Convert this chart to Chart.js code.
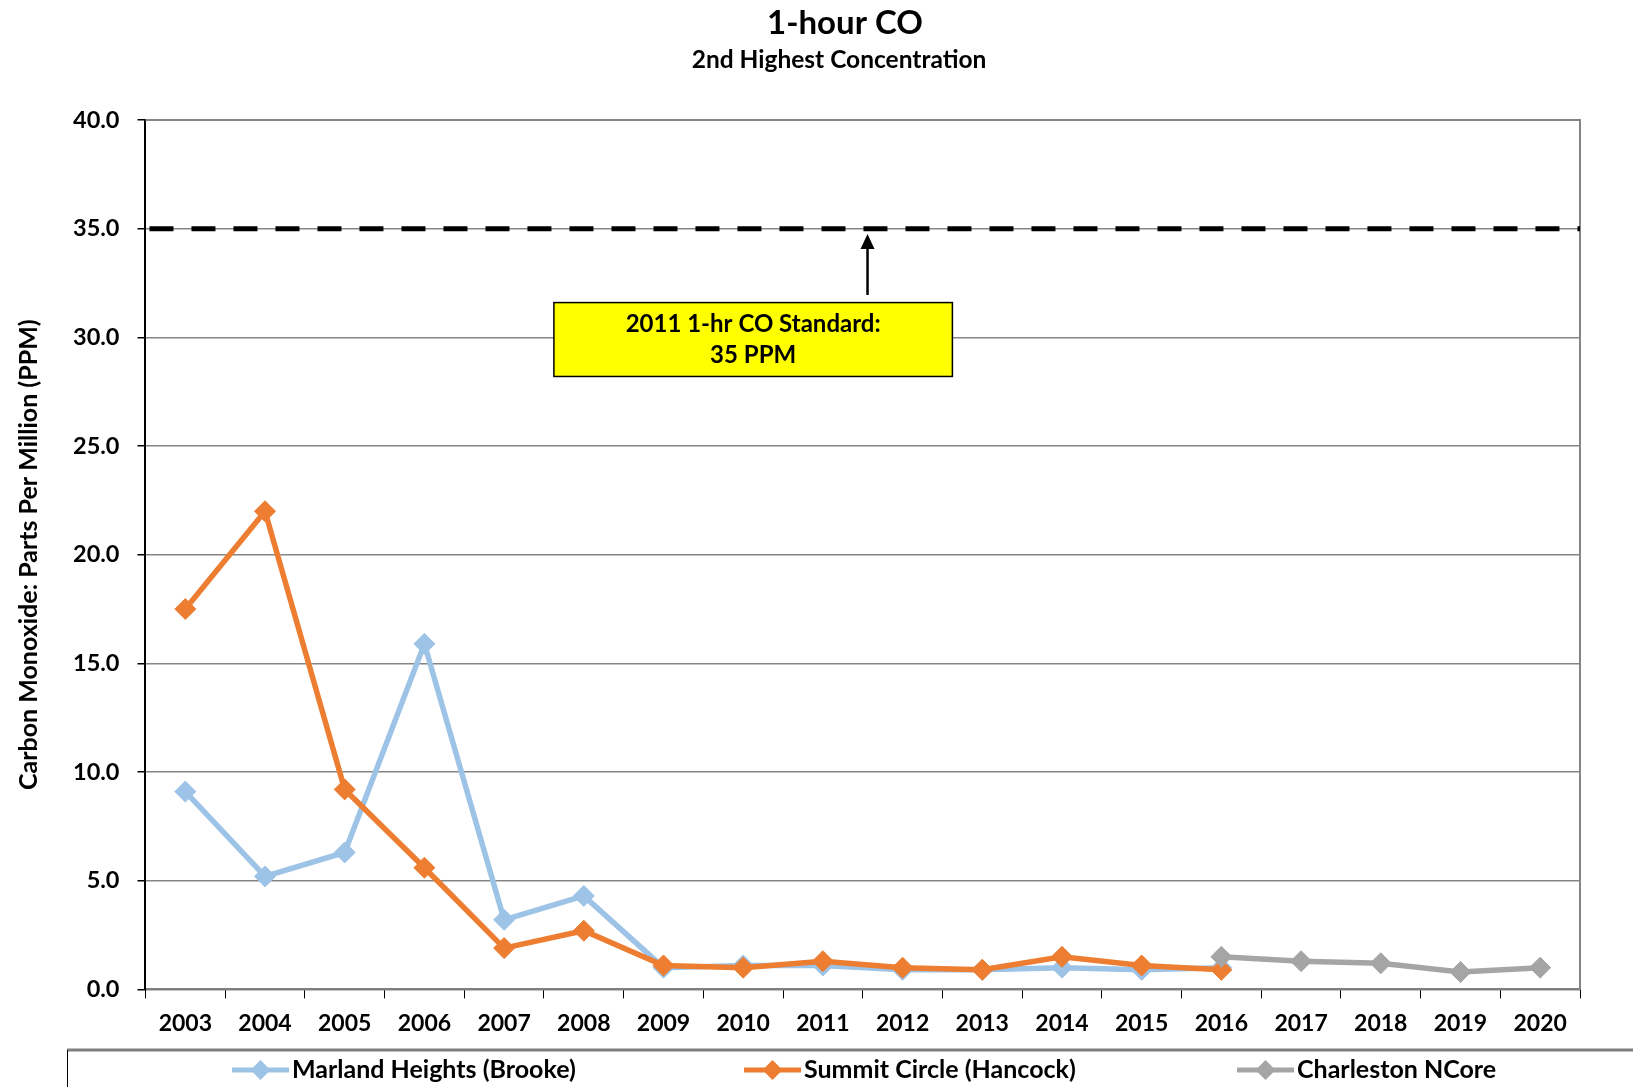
<!DOCTYPE html>
<html>
<head>
<meta charset="utf-8">
<script src="https://cdn.jsdelivr.net/npm/chart.js@4.4.1/dist/chart.umd.min.js"></script>
<style>
	html, body { margin: 0; padding: 0; background: #fff; }
	#wrap { width: 1633px; height: 1087px; }
</style>
</head>
<body>
<div id="wrap"><canvas id="chart"></canvas></div>
<script>
const years = ['2003', '2004', '2005', '2006', '2007', '2008', '2009', '2010', '2011', '2012', '2013', '2014', '2015', '2016', '2017', '2018', '2019', '2020'];
const marlandHeights = [9.1, 5.2, 6.3, 15.9, 3.2, 4.3, 1.0, 1.1, 1.1, 0.9, 0.9, 1.0, 0.9, 1.0, null, null, null, null];
const summitCircle = [17.5, 22.0, 9.2, 5.6, 1.9, 2.7, 1.1, 1.0, 1.3, 1.0, 0.9, 1.5, 1.1, 0.9, null, null, null, null];
const charlestonNCore = [null, null, null, null, null, null, null, null, null, null, null, null, null, 1.5, 1.3, 1.2, 0.8, 1.0];
const seriesNames = ['Marland Heights (Brooke)', 'Summit Circle (Hancock)', 'Charleston NCore'];
const seriesColors = ['#9DC3E6', '#ED7D31', '#A5A5A5'];
const yMin = 0, yMax = 40, yStep = 5;
const standardPPM = 35;
const standardLabel = ['2011 1-hr CO Standard:', '35 PPM'];
const titleText = '1-hour CO';
const subtitleText = '2nd Highest Concentration';

const FONT = 'Lato, "Open Sans", sans-serif';

function diamond(ctx, x, y, r, color) {
	ctx.beginPath();
	ctx.moveTo(x, y - r);
	ctx.lineTo(x + r, y);
	ctx.lineTo(x, y + r);
	ctx.lineTo(x - r, y);
	ctx.closePath();
	ctx.fillStyle = color;
	ctx.fill();
}

const extras = {
	id: 'extras',
	afterDatasetsDraw(chart) {
		const ctx = chart.ctx;
		const area = chart.chartArea;
		const x = chart.scales.x;
		const y = chart.scales.y;
		ctx.save();

		// titles
		ctx.fillStyle = '#000';
		ctx.textAlign = 'center';
		ctx.textBaseline = 'middle';
		ctx.font = 'bold 33px ' + FONT;
		ctx.fillText(titleText, 845, 23);
		ctx.font = 'bold 24.5px ' + FONT;
		ctx.fillText(subtitleText, 839, 60);

		// top and right frame
		ctx.strokeStyle = '#858585';
		ctx.lineWidth = 2;
		ctx.beginPath();
		ctx.moveTo(area.left, area.top);
		ctx.lineTo(area.right, area.top);
		ctx.lineTo(area.right, area.bottom);
		ctx.stroke();

		// standard line
		const ys = y.getPixelForValue(standardPPM);
		ctx.strokeStyle = '#000';
		ctx.lineWidth = 5;
		ctx.setLineDash([24, 18]);
		ctx.beginPath();
		ctx.moveTo(area.left + 4, ys);
		ctx.lineTo(area.right, ys);
		ctx.stroke();
		ctx.setLineDash([]);

		// arrow
		const ax = x.getPixelForValue(8.56);
		const aBottom = y.getPixelForValue(31.95);
		const aTip = y.getPixelForValue(34.75);
		ctx.lineWidth = 2.5;
		ctx.beginPath();
		ctx.moveTo(ax, aBottom);
		ctx.lineTo(ax, aTip + 12);
		ctx.stroke();
		ctx.beginPath();
		ctx.moveTo(ax, aTip);
		ctx.lineTo(ax - 7, aTip + 15);
		ctx.lineTo(ax + 7, aTip + 15);
		ctx.closePath();
		ctx.fillStyle = '#000';
		ctx.fill();

		// label box
		const bl = x.getPixelForValue(4.625);
		const br = x.getPixelForValue(9.625);
		const bt = y.getPixelForValue(31.6);
		const bb = y.getPixelForValue(28.2);
		ctx.fillStyle = '#FFFF00';
		ctx.fillRect(bl, bt, br - bl, bb - bt);
		ctx.strokeStyle = '#000';
		ctx.lineWidth = 1.5;
		ctx.strokeRect(bl, bt, br - bl, bb - bt);
		ctx.fillStyle = '#000';
		ctx.font = 'bold 24px ' + FONT;
		const cx = (bl + br) / 2;
		const cy = (bt + bb) / 2;
		ctx.fillText(standardLabel[0], cx, cy - 15);
		ctx.fillText(standardLabel[1], cx, cy + 16);

		// legend
		ctx.strokeStyle = '#7f7f7f';
		ctx.lineWidth = 3;
		ctx.beginPath();
		ctx.moveTo(67, 1050);
		ctx.lineTo(1633, 1050);
		ctx.stroke();
		ctx.strokeStyle = '#000';
		ctx.lineWidth = 1;
		ctx.beginPath();
		ctx.moveTo(67.5, 1050);
		ctx.lineTo(67.5, 1087);
		ctx.stroke();
		const starts = [232, 744, 1237];
		const ly = 1070;
		ctx.textAlign = 'left';
		ctx.font = 'bold 25px ' + FONT;
		seriesNames.forEach((name, i) => {
			const sx = starts[i];
			ctx.strokeStyle = seriesColors[i];
			ctx.lineWidth = 5;
			ctx.beginPath();
			ctx.moveTo(sx, ly);
			ctx.lineTo(sx + 57, ly);
			ctx.stroke();
			diamond(ctx, sx + 28.5, ly, 10, seriesColors[i]);
			ctx.fillStyle = '#000';
			ctx.fillText(name, sx + 60, ly);
		});
		ctx.restore();
	}
};

const datasets = [marlandHeights, summitCircle, charlestonNCore].map((data, i) => ({
	label: seriesNames[i],
	data: data,
	borderColor: seriesColors[i],
	backgroundColor: seriesColors[i],
	borderWidth: 5.5,
	pointStyle: 'rectRot',
	pointRadius: 10.5,
	pointBorderWidth: 1,
	pointBorderColor: seriesColors[i],
	pointBackgroundColor: seriesColors[i],
	tension: 0,
	spanGaps: false,
	order: 2 - i
}));

new Chart(document.getElementById('chart'), {
	type: 'line',
	data: { labels: years, datasets: datasets },
	options: {
		responsive: true,
		maintainAspectRatio: false,
		animation: false,
		layout: { padding: { left: 14, right: 53, top: 120, bottom: 39 } },
		plugins: {
			legend: { display: false },
			tooltip: { enabled: false },
			title: { display: false },
			subtitle: { display: false }
		},
		scales: {
			x: {
				offset: true,
				grid: { offset: true, drawOnChartArea: false, drawTicks: true, tickLength: 9, tickColor: '#000', lineWidth: 1 },
				border: { color: '#7f7f7f', width: 2 },
				ticks: { color: '#000', font: { family: FONT, size: 23, weight: 'bold' }, padding: 11, maxRotation: 0, autoSkip: false }
			},
			y: {
				min: yMin,
				max: yMax,
				grid: { color: '#858585', lineWidth: 1.5, tickLength: 8, tickColor: '#000' },
				border: { color: '#000', width: 2 },
				ticks: {
					stepSize: yStep,
					color: '#000',
					padding: 18,
					font: { family: FONT, size: 23.5, weight: 'bold' },
					callback: v => v.toFixed(1)
				},
				title: {
					display: true,
					text: 'Carbon Monoxide: Parts Per Million (PPM)',
					color: '#000',
					font: { family: FONT, size: 25, weight: 'bold' },
					padding: { top: 0, bottom: 11 }
				}
			}
		}
	},
	plugins: [extras]
});
</script>
</body>
</html>
